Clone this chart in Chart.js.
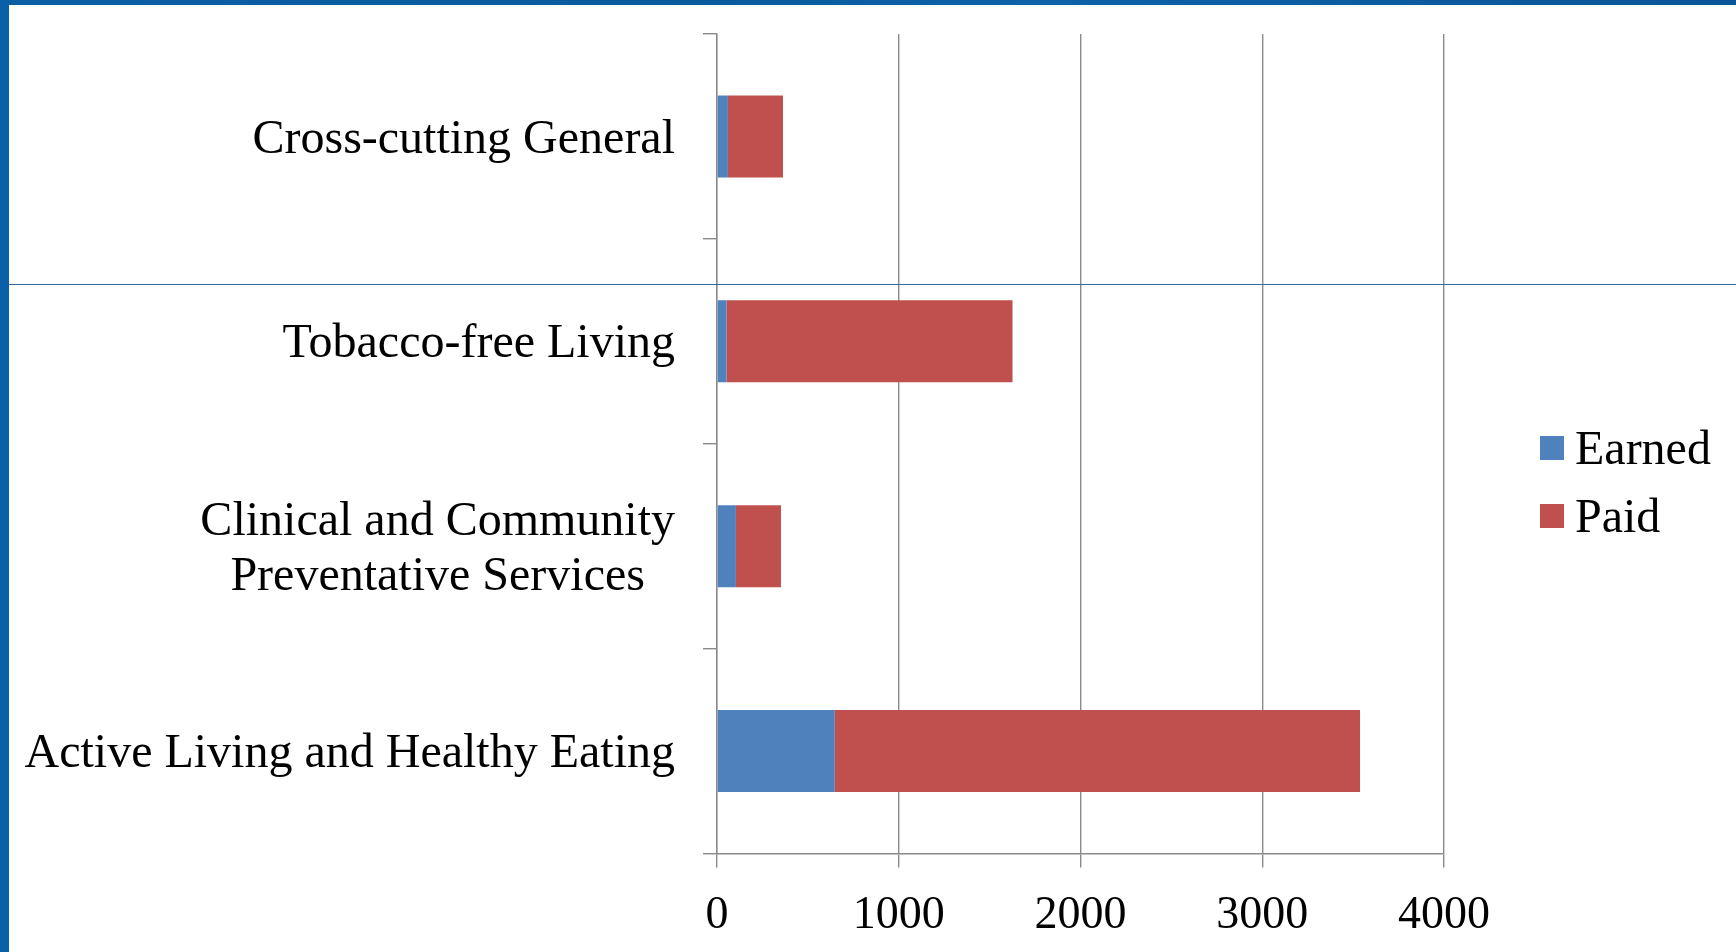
<!DOCTYPE html>
<html>
<head>
<meta charset="utf-8">
<script src="https://cdn.jsdelivr.net/npm/chart.js@4/dist/chart.umd.min.js"></script>
<style>
  body { margin: 0; background: #fff; overflow: hidden; }
  #wrap { position: relative; width: 1736px; height: 952px; }
  #topband { position: absolute; left: 0; top: 0; width: 1736px; height: 5px;
    background: linear-gradient(90deg, #0b5fa6 0%, #0a5a9e 40%, #0d62aa 60%, #0a5597 100%); }
  #leftbar { position: absolute; left: 0; top: 0; width: 9px; height: 952px; background: #0a60a8; }
  #rule { position: absolute; left: 9px; top: 284px; width: 1727px; height: 1px; background: #2f6aa6; }
</style>
</head>
<body>
<div id="wrap">
  <canvas id="chart" width="1736" height="952"></canvas>
  <div id="topband"></div>
  <div id="leftbar"></div>
  <div id="rule"></div>
</div>
<script>
const categories = [
  "Cross-cutting General",
  "Tobacco-free Living",
  ["Clinical and Community", "Preventative Services"],
  "Active Living and Healthy Eating"
];
const earned = [60, 52, 104, 648];
const paid = [303, 1574, 248, 2890];
const xTicks = [0, 1000, 2000, 3000, 4000];

const FONT = "'Liberation Serif', 'Times New Roman', serif";
const gridGray = "#8a8a8a";

// category labels (right aligned block, lines centred) and legend
const sideText = {
  id: "sideText",
  afterDraw(chart) {
    const ctx = chart.ctx;
    const ys = chart.scales.y;
    const area = chart.chartArea;
    ctx.save();
    ctx.font = "48px " + FONT;
    ctx.fillStyle = "#000";
    ctx.textBaseline = "middle";
    ctx.textAlign = "center";
    const right = area.left - 42;
    categories.forEach((lab, i) => {
      const lines = Array.isArray(lab) ? lab : [lab];
      const w = Math.max(...lines.map(l => ctx.measureText(l).width));
      const cy = ys.getPixelForValue(i) + 3.5;
      lines.forEach((l, j) => {
        ctx.fillText(l, right - w / 2, cy + (j - (lines.length - 1) / 2) * 55.5);
      });
    });

    ctx.textAlign = "left";
    chart.data.datasets.forEach((ds, i) => {
      const cy = 448 + i * 68;
      const x = area.right + 96;
      ctx.fillStyle = ds.backgroundColor;
      ctx.fillRect(x, cy - 12, 24, 24);
      ctx.fillStyle = "#000";
      ctx.fillText(ds.label, x + 35, cy + 3);
    });
    ctx.restore();
  }
};

new Chart(document.getElementById("chart").getContext("2d"), {
  type: "bar",
  data: {
    labels: categories,
    datasets: [
      { label: "Earned", data: earned, backgroundColor: "#4F81BD" },
      { label: "Paid", data: paid, backgroundColor: "#C0504D" }
    ]
  },
  options: {
    indexAxis: "y",
    responsive: false,
    animation: false,
    barPercentage: 0.4,
    categoryPercentage: 1.0,
    layout: { padding: { top: 34, right: 292, left: 0, bottom: 0 } },
    plugins: { legend: { display: false }, tooltip: { enabled: false } },
    scales: {
      x: {
        stacked: true,
        min: 0,
        max: 4000,
        afterBuildTicks: s => { s.ticks = xTicks.map(v => ({ value: v })); },
        afterFit: s => { s.height = 98.5; },
        grid: { color: gridGray, lineWidth: 1.4, tickLength: 14, drawTicks: true },
        border: { color: gridGray, width: 1.4 },
        ticks: {
          color: "#000", font: { family: FONT, size: 46 }, padding: 21, maxRotation: 0,
          callback: v => String(v)
        }
      },
      y: {
        stacked: true,
        afterFit: s => { s.width = 717; },
        grid: { color: gridGray, lineWidth: 1.4, drawOnChartArea: false, tickLength: 14, offset: true },
        border: { color: gridGray, width: 1.4 },
        ticks: { display: false }
      }
    }
  },
  plugins: [sideText]
});
</script>
</body>
</html>
